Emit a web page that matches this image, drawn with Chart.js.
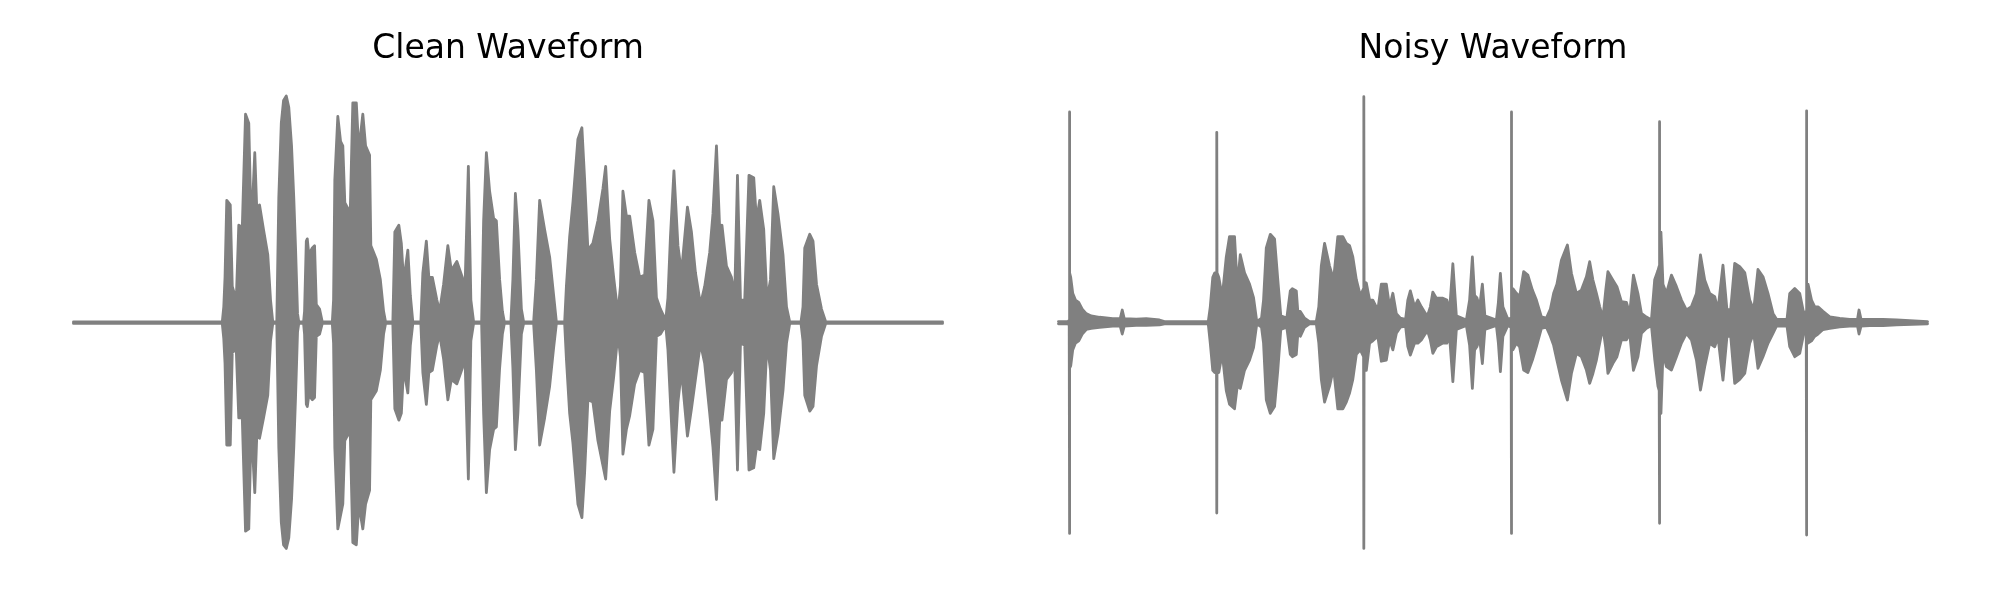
<!DOCTYPE html>
<html>
<head>
<meta charset="utf-8">
<title>Clean vs Noisy Waveform</title>
<script src="https://cdn.jsdelivr.net/npm/chart.js@4.4.1/dist/chart.umd.min.js"></script>
<style>
  html, body { margin: 0; padding: 0; background: #ffffff; }
  body { width: 2000px; height: 600px; position: relative; overflow: hidden; }
  .panel { position: absolute; top: 0; width: 956px; height: 600px; }
  #cleanPanel { left: 30px; }
  #noisyPanel { left: 1015px; }
</style>
</head>
<body>
<div class="panel" id="cleanPanel"><canvas id="cleanChart" width="956" height="600"></canvas></div>
<div class="panel" id="noisyPanel"><canvas id="noisyChart" width="956" height="600"></canvas></div>

<script>
// Envelope of the clean recording: time (ms), upper and lower amplitude
const cleanTime = [
  0, 595, 601, 606, 613, 627, 635, 651, 661, 675, 688, 701, 711, 725, 733, 744, 760, 777, 788, 797,
  813, 821, 831, 840, 851, 861, 872, 881, 888, 896, 901, 920, 924, 931, 935, 941, 955, 964, 971, 984,
  995, 1035, 1040, 1045, 1057, 1068, 1077, 1085, 1099, 1107, 1117, 1131, 1141, 1157, 1168, 1184, 1189, 1211, 1227, 1240,
  1248, 1277, 1285, 1301, 1311, 1320, 1337, 1347, 1357, 1389, 1397, 1411, 1421, 1435, 1453, 1464, 1480, 1497, 1511, 1533,
  1555, 1565, 1579, 1589, 1600, 1632, 1640, 1651, 1664, 1680, 1691, 1704, 1715, 1723, 1749, 1757, 1767, 1777, 1791, 1800,
  1840, 1851, 1864, 1884, 1904, 1920, 1931, 1964, 1971, 1984, 1997, 2017, 2033, 2044, 2057, 2077, 2097, 2117, 2128, 2144,
  2160, 2177, 2187, 2197, 2211, 2224, 2244, 2264, 2284, 2301, 2317, 2331, 2347, 2368, 2377, 2387, 2401, 2417, 2431, 2455,
  2471, 2487, 2507, 2524, 2544, 2557, 2571, 2584, 2593, 2611, 2631, 2644, 2655, 2667, 2684, 2701, 2720, 2731, 2744, 2760,
  2773, 2787, 2800, 2817, 2837, 2851, 2864, 2909, 2917, 2924, 2944, 2957, 2971, 2991, 3008, 3475
];
const cleanUpper = [
  0.003, 0.003, 0.07, 0.20, 0.54, 0.52, 0.16, 0.10, 0.43, 0.42, 0.92, 0.88, 0.40, 0.75, 0.50, 0.52, 0.41, 0.30, 0.10, 0.003,
  0.003, 0.55, 0.88, 0.98, 1.00, 0.95, 0.78, 0.55, 0.33, 0.04, 0.003, 0.003, 0.05, 0.36, 0.37, 0.30, 0.33, 0.34, 0.08, 0.06,
  0.003, 0.003, 0.10, 0.63, 0.91, 0.80, 0.78, 0.53, 0.50, 0.50, 0.97, 0.97, 0.76, 0.92, 0.78, 0.74, 0.34, 0.28, 0.19, 0.05,
  0.003, 0.003, 0.40, 0.43, 0.35, 0.18, 0.32, 0.12, 0.003, 0.003, 0.22, 0.36, 0.20, 0.20, 0.10, 0.05, 0.17, 0.34, 0.23, 0.27,
  0.20, 0.13, 0.69, 0.10, 0.003, 0.003, 0.45, 0.75, 0.58, 0.46, 0.45, 0.19, 0.05, 0.003, 0.003, 0.19, 0.57, 0.41, 0.06, 0.003,
  0.003, 0.19, 0.54, 0.41, 0.29, 0.12, 0.003, 0.003, 0.16, 0.38, 0.53, 0.81, 0.86, 0.63, 0.32, 0.35, 0.45, 0.59, 0.69, 0.37,
  0.20, 0.04, 0.16, 0.58, 0.47, 0.47, 0.31, 0.20, 0.21, 0.54, 0.45, 0.11, 0.06, 0.01, 0.11, 0.38, 0.67, 0.34, 0.22, 0.51,
  0.40, 0.22, 0.08, 0.16, 0.31, 0.48, 0.78, 0.41, 0.43, 0.25, 0.20, 0.12, 0.65, 0.10, 0.10, 0.65, 0.64, 0.45, 0.54, 0.41,
  0.10, 0.19, 0.60, 0.48, 0.30, 0.07, 0.003, 0.003, 0.07, 0.33, 0.39, 0.36, 0.17, 0.06, 0.003, 0.003
];
const cleanLower = [
  -0.003, -0.003, -0.07, -0.18, -0.54, -0.54, -0.13, -0.12, -0.42, -0.42, -0.92, -0.91, -0.45, -0.75, -0.50, -0.51, -0.42, -0.32, -0.08, -0.003,
  -0.003, -0.55, -0.88, -0.98, -0.996, -0.95, -0.78, -0.55, -0.33, -0.04, -0.003, -0.003, -0.05, -0.36, -0.37, -0.32, -0.34, -0.33, -0.06, -0.05,
  -0.003, -0.003, -0.09, -0.55, -0.91, -0.85, -0.80, -0.52, -0.49, -0.50, -0.97, -0.98, -0.80, -0.91, -0.80, -0.74, -0.34, -0.30, -0.21, -0.05,
  -0.003, -0.003, -0.38, -0.43, -0.40, -0.20, -0.31, -0.10, -0.003, -0.003, -0.22, -0.36, -0.22, -0.21, -0.10, -0.05, -0.16, -0.34, -0.25, -0.27,
  -0.20, -0.13, -0.69, -0.08, -0.003, -0.003, -0.40, -0.75, -0.56, -0.47, -0.46, -0.20, -0.05, -0.003, -0.003, -0.20, -0.56, -0.40, -0.05, -0.003,
  -0.003, -0.21, -0.54, -0.42, -0.28, -0.11, -0.003, -0.003, -0.16, -0.40, -0.53, -0.80, -0.86, -0.66, -0.34, -0.35, -0.52, -0.63, -0.69, -0.39,
  -0.24, -0.05, -0.15, -0.58, -0.47, -0.41, -0.27, -0.21, -0.22, -0.54, -0.47, -0.06, -0.05, -0.01, -0.12, -0.35, -0.66, -0.35, -0.21, -0.50,
  -0.38, -0.25, -0.09, -0.18, -0.40, -0.55, -0.78, -0.43, -0.43, -0.25, -0.22, -0.18, -0.65, -0.09, -0.10, -0.65, -0.64, -0.55, -0.56, -0.40,
  -0.09, -0.21, -0.60, -0.49, -0.30, -0.09, -0.003, -0.003, -0.08, -0.32, -0.39, -0.37, -0.19, -0.06, -0.003, -0.003
];

// Envelope of the noisy recording (same speech plus clicks): time (ms), upper and lower amplitude
const noisyTime = [
  0, 37, 43, 44, 45, 49, 57, 68, 81, 95, 111, 131, 164, 217, 247, 255, 263, 311, 351, 404,
  424, 599, 607, 617, 625, 632, 633, 634, 641, 655, 671, 684, 704, 715, 727, 744, 764, 780, 793, 812,
  820, 831, 847, 864, 877, 889, 913, 927, 935, 951, 957, 967, 984, 1004, 1031, 1041, 1051, 1064, 1084, 1100,
  1117, 1137, 1151, 1164, 1177, 1191, 1207, 1220, 1221, 1222, 1231, 1244, 1257, 1277, 1291, 1311, 1324, 1337, 1351, 1367,
  1388, 1397, 1407, 1424, 1437, 1451, 1468, 1477, 1487, 1497, 1511, 1537, 1553, 1564, 1577, 1591, 1631, 1644, 1655, 1664,
  1673, 1684, 1695, 1705, 1751, 1759, 1767, 1777, 1797, 1810, 1811, 1812, 1817, 1831, 1844, 1860, 1877, 1895, 1911, 1931,
  1951, 1967, 1980, 1993, 2011, 2035, 2051, 2071, 2091, 2111, 2124, 2137, 2151, 2164, 2177, 2188, 2197, 2217, 2233, 2251,
  2271, 2284, 2299, 2317, 2331, 2351, 2371, 2384, 2397, 2402, 2403, 2404, 2409, 2417, 2431, 2451, 2471, 2491, 2511, 2531,
  2551, 2567, 2584, 2604, 2624, 2637, 2657, 2673, 2688, 2704, 2724, 2744, 2764, 2780, 2797, 2817, 2837, 2857, 2871, 2913,
  2924, 2944, 2964, 2980, 2990, 2991, 2992, 2997, 3011, 3024, 3037, 3057, 3084, 3124, 3164, 3195, 3201, 3209, 3244, 3297,
  3351, 3475
];
const noisyUpper = [
  0.005, 0.005, 0.01, 0.93, 0.22, 0.20, 0.13, 0.10, 0.09, 0.06, 0.04, 0.03, 0.024, 0.018, 0.018, 0.056, 0.018, 0.016, 0.018, 0.012,
  0.005, 0.005, 0.07, 0.20, 0.22, 0.22, 0.84, 0.22, 0.20, 0.115, 0.29, 0.38, 0.38, 0.16, 0.30, 0.22, 0.17, 0.11, 0.005, 0.02,
  0.10, 0.33, 0.39, 0.37, 0.19, 0.03, 0.02, 0.14, 0.15, 0.14, 0.05, 0.05, 0.02, 0.005, 0.005, 0.07, 0.25, 0.35, 0.25, 0.19,
  0.38, 0.38, 0.35, 0.34, 0.29, 0.19, 0.12, 0.15, 0.997, 0.18, 0.175, 0.10, 0.10, 0.056, 0.17, 0.17, 0.07, 0.13, 0.04, 0.02,
  0.015, 0.10, 0.14, 0.07, 0.10, 0.07, 0.04, 0.035, 0.07, 0.135, 0.108, 0.108, 0.10, 0.056, 0.26, 0.03, 0.012, 0.10, 0.29, 0.12,
  0.11, 0.07, 0.17, 0.03, 0.012, 0.09, 0.218, 0.07, 0.015, 0.02, 0.93, 0.15, 0.15, 0.13, 0.115, 0.225, 0.21, 0.144, 0.10, 0.026,
  0.02, 0.06, 0.13, 0.17, 0.276, 0.343, 0.218, 0.129, 0.144, 0.203, 0.269, 0.188, 0.129, 0.071, 0.02, 0.14, 0.225, 0.188, 0.159, 0.093,
  0.09, 0.04, 0.21, 0.129, 0.041, 0.025, 0.012, 0.19, 0.23, 0.25, 0.887, 0.40, 0.40, 0.17, 0.129, 0.21, 0.159, 0.10, 0.056, 0.071,
  0.129, 0.299, 0.188, 0.129, 0.115, 0.056, 0.254, 0.056, 0.06, 0.262, 0.247, 0.221, 0.10, 0.056, 0.235, 0.203, 0.129, 0.041, 0.015, 0.015,
  0.129, 0.151, 0.129, 0.04, 0.05, 0.935, 0.17, 0.17, 0.10, 0.07, 0.07, 0.05, 0.026, 0.019, 0.015, 0.015, 0.056, 0.015, 0.015, 0.015,
  0.012, 0.005
];
const noisyLower = [
  -0.005, -0.005, -0.01, -0.93, -0.20, -0.19, -0.12, -0.09, -0.08, -0.05, -0.03, -0.025, -0.021, -0.015, -0.015, -0.05, -0.015, -0.012, -0.012, -0.01,
  -0.005, -0.005, -0.09, -0.21, -0.22, -0.22, -0.84, -0.22, -0.22, -0.135, -0.30, -0.36, -0.38, -0.28, -0.29, -0.21, -0.165, -0.11, -0.005, -0.02,
  -0.09, -0.34, -0.40, -0.37, -0.21, -0.03, -0.02, -0.14, -0.15, -0.14, -0.05, -0.06, -0.02, -0.005, -0.005, -0.09, -0.25, -0.35, -0.28, -0.20,
  -0.38, -0.38, -0.35, -0.31, -0.25, -0.14, -0.12, -0.15, -0.996, -0.21, -0.21, -0.09, -0.08, -0.06, -0.17, -0.165, -0.076, -0.12, -0.047, -0.02,
  -0.015, -0.106, -0.143, -0.09, -0.09, -0.076, -0.047, -0.04, -0.076, -0.135, -0.106, -0.09, -0.09, -0.062, -0.26, -0.03, -0.012, -0.10, -0.29, -0.12,
  -0.106, -0.07, -0.18, -0.03, -0.012, -0.09, -0.216, -0.06, -0.012, -0.02, -0.93, -0.12, -0.12, -0.09, -0.106, -0.209, -0.22, -0.165, -0.106, -0.025,
  -0.02, -0.06, -0.10, -0.165, -0.253, -0.341, -0.224, -0.135, -0.150, -0.209, -0.268, -0.224, -0.165, -0.091, -0.02, -0.11, -0.224, -0.179, -0.150, -0.076,
  -0.076, -0.047, -0.21, -0.150, -0.047, -0.025, -0.012, -0.16, -0.28, -0.30, -0.885, -0.40, -0.40, -0.135, -0.194, -0.209, -0.150, -0.09, -0.047, -0.076,
  -0.165, -0.297, -0.194, -0.091, -0.106, -0.062, -0.253, -0.06, -0.06, -0.268, -0.25, -0.224, -0.091, -0.047, -0.201, -0.150, -0.091, -0.047, -0.015, -0.015,
  -0.106, -0.150, -0.135, -0.047, -0.05, -0.937, -0.09, -0.09, -0.08, -0.06, -0.05, -0.03, -0.025, -0.018, -0.015, -0.015, -0.05, -0.015, -0.013, -0.013,
  -0.01, -0.005
];

const WAVE_COLOR = "#808080";
const DURATION_MS = 3475;

document.addEventListener("DOMContentLoaded", function () {
    // Two line datasets (lower and upper envelope) with the space between them filled
    function waveDatasets(times, upper, lower) {
        const common = {
            borderColor: WAVE_COLOR,
            borderWidth: 2.8,
            borderJoinStyle: "round",
            borderCapStyle: "round",
            pointRadius: 0,
            tension: 0
        };
        return [
            Object.assign({}, common, {
                data: times.map((t, i) => ({ x: t, y: lower[i] })),
                fill: false
            }),
            Object.assign({}, common, {
                data: times.map((t, i) => ({ x: t, y: upper[i] })),
                backgroundColor: WAVE_COLOR,
                fill: "-1"
            })
        ];
    }

    function makeWaveChart(canvasId, title, times, upper, lower) {
        // 5% margin on both sides, like the default axes margins
        const pad = DURATION_MS * 0.05;
        return new Chart(document.getElementById(canvasId).getContext("2d"), {
            type: "line",
            data: { datasets: waveDatasets(times, upper, lower) },
            options: {
                responsive: false,
                animation: false,
                events: [],
                layout: { padding: { top: 0, bottom: 28, left: 0, right: 0 }, autoPadding: false },
                plugins: {
                    legend: { display: false },
                    tooltip: { enabled: false },
                    title: {
                        display: true,
                        text: title,
                        color: "#000000",
                        font: { family: "'DejaVu Sans', sans-serif", size: 33, weight: "normal" },
                        padding: { top: 29.5, bottom: 4.3 }
                    }
                },
                scales: {
                    x: { type: "linear", display: false, min: -pad, max: DURATION_MS + pad },
                    y: { display: false, min: -1.1, max: 1.1 }
                }
            }
        });
    }

    makeWaveChart("cleanChart", "Clean Waveform", cleanTime, cleanUpper, cleanLower);
    makeWaveChart("noisyChart", "Noisy Waveform", noisyTime, noisyUpper, noisyLower);
});
</script>
</body>
</html>
